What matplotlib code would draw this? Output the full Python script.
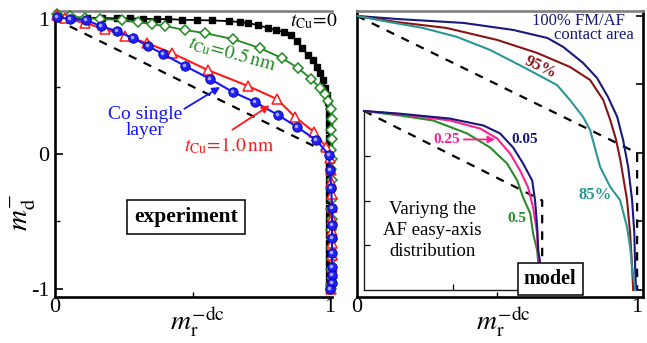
import matplotlib
matplotlib.use('Agg')
import matplotlib.pyplot as plt
from matplotlib.transforms import offset_copy

plt.rcParams['font.family'] = ['Liberation Serif', 'DejaVu Serif']
plt.rcParams['mathtext.fontset'] = 'stix'

# ---------------- experiment (left panel) ----------------
tcu0_x = [0.007, 0.062, 0.116, 0.171, 0.225, 0.273, 0.320, 0.371, 0.411, 0.462, 0.516,
          0.571, 0.633, 0.673, 0.702, 0.738, 0.775, 0.804, 0.833, 0.858, 0.880, 0.898,
          0.920, 0.938, 0.953, 0.964, 0.975, 0.982, 0.989, 0.993,
          0.995, 0.995, 0.996, 0.996, 0.996, 0.996, 0.996, 0.997, 0.997, 0.997, 0.997,
          0.997, 0.997, 0.997, 0.997, 0.997, 0.997, 0.997, 0.997, 0.997, 0.997, 0.997,
          0.997, 0.997, 0.997, 0.997, 0.997]
tcu0_y = [1.010, 1.010, 1.010, 1.008, 1.005, 1.005, 1.003, 1.000, 1.000, 0.995, 0.993,
          0.990, 0.985, 0.978, 0.970, 0.956, 0.933, 0.919, 0.905, 0.881, 0.837, 0.785,
          0.733, 0.696, 0.644, 0.600, 0.548, 0.489, 0.437, 0.385,
          0.33, 0.28, 0.23, 0.18, 0.12, 0.07, 0.02, -0.03, -0.08, -0.14, -0.19,
          -0.24, -0.29, -0.34, -0.40, -0.45, -0.50, -0.55, -0.60, -0.66, -0.71, -0.76,
          -0.81, -0.86, -0.91, -0.96, -1.00]

tcu05_x = [0.007, 0.055, 0.109, 0.164, 0.244, 0.302, 0.353, 0.400, 0.473, 0.545, 0.647,
           0.745, 0.825, 0.884, 0.931, 0.964, 0.982, 0.993,
           1.003, 1.006, 1.003, 1.006, 1.003, 1.006, 1.003, 1.006, 1.003, 1.006, 1.003,
           1.006, 1.003, 1.006, 1.003, 1.006, 1.003, 1.006, 1.003, 1.005]
tcu05_y = [1.037, 1.022, 1.007, 1.000, 0.993, 0.978, 0.963, 0.948, 0.919, 0.896, 0.852,
           0.785, 0.711, 0.637, 0.556, 0.489, 0.444, 0.393,
           0.33, 0.26, 0.18, 0.11, 0.03, -0.04, -0.11, -0.19, -0.26, -0.33, -0.41,
           -0.48, -0.56, -0.63, -0.70, -0.78, -0.85, -0.92, -0.97, -1.00]

tcu10_x = [0.007, 0.036, 0.109, 0.182, 0.255, 0.335, 0.425, 0.556, 0.702, 0.807, 0.873,
           0.942, 0.985, 1.000, 1.004, 1.005, 1.006, 1.006, 1.006, 1.006, 1.006, 1.006,
           1.006, 1.006, 1.005]
tcu10_y = [1.030, 1.007, 0.970, 0.926, 0.874, 0.822, 0.748, 0.622, 0.504, 0.407, 0.274,
           0.163, 0.052, -0.030, -0.12, -0.21, -0.30, -0.39, -0.48, -0.57, -0.66, -0.75,
           -0.84, -0.93, -1.00]

co_x = [0.007, 0.055, 0.113, 0.167, 0.225, 0.284, 0.338, 0.393, 0.473, 0.564, 0.647,
        0.727, 0.811, 0.880, 0.949, 0.996, 1.000, 1.004, 1.007, 1.007, 1.007, 1.007,
        1.007, 1.007, 1.007, 1.000]
co_y = [1.015, 1.000, 0.993, 0.948, 0.911, 0.859, 0.800, 0.741, 0.652, 0.556, 0.459,
        0.385, 0.289, 0.200, 0.104, -0.007, -0.119, -0.252, -0.400, -0.526, -0.622,
        -0.733, -0.837, -0.896, -0.956, -1.000]

guide_exp_x = [0.0, 1.0]
guide_exp_y = [1.0, 0.0]

# ---------------- model (right panel) ----------------
fm100_x = [0.0, 0.14, 0.38, 0.557, 0.68, 0.736, 0.807, 0.857, 0.896, 0.929, 0.95,
           0.968, 0.982, 0.99, 0.993, 0.996]
fm100_y = [1.0, 0.978, 0.949, 0.898, 0.839, 0.774, 0.657, 0.547, 0.409, 0.263, 0.095,
           -0.102, -0.343, -0.584, -0.832, -1.0]
fm95_x = [0.0, 0.14, 0.32, 0.5, 0.643, 0.76, 0.832, 0.879, 0.904, 0.925, 0.94,
          0.964, 0.975, 0.982, 0.986]
fm95_y = [1.0, 0.956, 0.912, 0.825, 0.73, 0.628, 0.533, 0.387, 0.241, 0.095, -0.05,
          -0.343, -0.584, -0.832, -1.0]
fm85_x = [0.0, 0.114, 0.236, 0.357, 0.475, 0.593, 0.714, 0.76, 0.807, 0.832, 0.868,
          0.904, 0.939, 0.964, 0.975, 0.982, 0.993]
fm85_y = [1.0, 0.956, 0.912, 0.847, 0.752, 0.628, 0.496, 0.387, 0.263, 0.168, -0.102,
          -0.248, -0.343, -0.54, -0.686, -0.832, -1.0]
guide_mod_x = [0.0, 1.0, 1.0]
guide_mod_y = [1.0, 0.0, -1.0]

# inset: AF easy-axis distribution
d005_x = [0.0, 0.2, 0.48, 0.67, 0.764, 0.837, 0.893, 0.944, 0.96, 0.972, 0.978, 0.989, 0.992]
d005_y = [1.0, 0.97, 0.916, 0.838, 0.749, 0.592, 0.413, 0.223, 0.0, -0.3, -0.56, -0.7, -1.0]
d025_x = [0.0, 0.2, 0.483, 0.652, 0.747, 0.82, 0.876, 0.921, 0.949, 0.972, 0.978, 0.985]
d025_y = [1.0, 0.966, 0.894, 0.804, 0.693, 0.525, 0.335, 0.145, -0.078, -0.369, -0.704, -1.0]
d05_x = [0.0, 0.2, 0.388, 0.579, 0.708, 0.803, 0.86, 0.893, 0.933, 0.949, 0.972, 0.978, 0.983]
d05_y = [1.0, 0.95, 0.894, 0.749, 0.592, 0.413, 0.223, 0.034, -0.145, -0.369, -0.559, -0.704, -1.0]

# ---------------- figure ----------------
W, H = 647, 343
fig = plt.figure(figsize=(W / 100, H / 100), dpi=100)

def fx(px):
    return px / W

def fy(py):
    return 1 - py / H

axL = fig.add_axes([fx(55), fy(297), (332 - 55) / W, (297 - 11) / H])
axR = fig.add_axes([fx(357), fy(297), (643 - 357) / W, (297 - 11) / H])

dash = (0, (3.8, 3.6))
black = 'black'
green = '#1f8a1f'
red = '#ff1a1a'
blue = '#1515ff'

# ---- left panel ----
axL.set_xlim(0, 1.007)
axL.set_ylim(-1.06, 1.06)
axL.plot(guide_exp_x, guide_exp_y, color='black', lw=1.6, linestyle=dash, zorder=1)
axL.plot(tcu0_x, tcu0_y, color=black, lw=1.3, marker='s', ms=4.6, mfc=black, mec=black,
         zorder=2, clip_on=False)
axL.plot(tcu05_x, tcu05_y, color=green, lw=1.3, marker='D', ms=5.2, mfc='white', mec=green,
         mew=1.1, zorder=3, clip_on=False)
axL.plot(tcu10_x, tcu10_y, color=red, lw=1.5, marker='^', ms=7, mfc='white', mec=red,
         mew=1.1, zorder=4, clip_on=False)
axL.plot(co_x, co_y, color=blue, lw=1.5, marker='o', ms=6.8, mfc='#2020f0', mec='#0000b0',
         mew=0.6, zorder=5, clip_on=False)
hl = offset_copy(axL.transData, fig=fig, x=-0.9, y=0.9, units='points')
axL.plot(co_x, co_y, linestyle='none', marker='o', ms=2.6, mfc='#a8a8ff', mec='none',
         transform=hl, zorder=6, clip_on=False)

axL.spines['right'].set_visible(False)
axL.spines['top'].set_color('#808080')
for s in ['left', 'bottom', 'top']:
    axL.spines[s].set_linewidth(1.9)

axL.set_yticks([-1, 0, 1])
axL.set_yticklabels(['-1', '0', '1'])
axL.set_yticks([-0.5, 0.5], minor=True)
axL.set_xticks([0, 1])
axL.set_xticklabels(['0', '1'])
axL.set_xticks([0.5], minor=True)
axL.tick_params(axis='both', which='major', direction='in', length=6, width=1.2,
                labelsize=16, top=False, right=False)
axL.tick_params(axis='y', which='major', pad=4)
axL.tick_params(axis='x', which='major', pad=1, length=0)
axL.tick_params(axis='both', which='minor', direction='in', length=3.5, width=1.0,
                top=False, right=False)

axL.text(0.855, 0.985, r'$t_{\rm Cu}\!=\!0$', fontsize=14, ha='left', va='center',
         color='black', clip_on=False, zorder=10)
axL.text(0.645, 0.745, r'$t_{\rm Cu}\!=\!0.5\,{\rm nm}$', fontsize=14, ha='center',
         va='center', color=green, rotation=-15, zorder=10)
axL.text(0.327, 0.235, 'Co single\nlayer', fontsize=14, ha='center', va='center',
         color=blue, linespacing=0.95, zorder=10)
axL.annotate('', xy=(0.60, 0.496), xytext=(0.47, 0.335),
             arrowprops=dict(arrowstyle='-|>', color=blue, lw=1.3, mutation_scale=11,
                             shrinkA=0, shrinkB=0), zorder=10)
axL.text(0.633, 0.06, r'$t_{\rm Cu}\!=\!1.0\,{\rm nm}$', fontsize=14, ha='center',
         va='center', color=red, zorder=10)
axL.annotate('', xy=(0.78, 0.36), xytext=(0.645, 0.18),
             arrowprops=dict(arrowstyle='-|>', color=red, lw=1.3, mutation_scale=11,
                             shrinkA=0, shrinkB=0), zorder=10)
axL.text(0.476, -0.467, 'experiment', fontsize=15.5, fontweight='bold', ha='center',
         va='center', zorder=10,
         bbox=dict(boxstyle='square,pad=0.33', fc='white', ec='black', lw=1.1))

# ---- right panel ----
axR.set_xlim(0, 1.021)
axR.set_ylim(-1.051, 1.036)
navy = '#18187e'
dred = '#8a1414'
teal = '#2a9696'
axR.plot(guide_mod_x, guide_mod_y, color='black', lw=1.6, linestyle=dash, zorder=1)
axR.plot(fm100_x, fm100_y, color=navy, lw=1.5, zorder=3)
axR.plot(fm95_x, fm95_y, color=dred, lw=1.5, zorder=3)
axR.plot(fm85_x, fm85_y, color=teal, lw=1.5, zorder=3)

axR.spines['top'].set_color('#808080')
for s in ['left', 'bottom', 'top', 'right']:
    axR.spines[s].set_linewidth(1.9)
axR.set_xticks([0, 1])
axR.set_xticklabels(['0', '1'])
axR.set_xticks([0.5], minor=True)
axR.set_yticks([-1, -0.5, 0, 0.5, 1])
axR.tick_params(axis='y', which='major', direction='in', length=5, width=1.2,
                left=False, right=True, labelleft=False, labelright=False)
axR.tick_params(axis='x', which='major', direction='in', length=0, labelsize=16, pad=1)
axR.tick_params(axis='x', which='minor', direction='in', length=3.5, width=1.0)

axR.text(0.957, 0.962, '100% FM/AF', fontsize=12, color=navy, ha='right', va='center')
axR.text(0.988, 0.858, 'contact area', fontsize=12, color=navy, ha='right', va='center')
axR.text(0.654, 0.625, '95%', fontsize=12, fontweight='bold', color=dred, ha='center',
         va='center', rotation=-25)
axR.text(0.85, -0.305, '85%', fontsize=12, fontweight='bold', color=teal, ha='center',
         va='center')

# ---- inset ----
axI = fig.add_axes([fx(364), fy(290), 196 / W, 179 / H], facecolor='none')
axI.set_xlim(0, 1.1)
axI.set_ylim(-1, 1)
pink = '#ff2090'
igreen = '#2a8a2a'
axI.plot(guide_mod_x, guide_mod_y, color='black', lw=1.6, linestyle=dash, zorder=1,
         clip_on=False)
axI.plot(d05_x, d05_y, color=igreen, lw=1.5, zorder=3, clip_on=False)
axI.plot(d025_x, d025_y, color=pink, lw=1.5, zorder=3, clip_on=False)
axI.plot(d005_x, d005_y, color=navy, lw=1.5, zorder=3, clip_on=False)
for s in ['top', 'right']:
    axI.spines[s].set_visible(False)
for s in ['left', 'bottom']:
    axI.spines[s].set_linewidth(1.0)
    axI.spines[s].set_color('#222222')
axI.set_yticks([-0.5, 0, 0.5])
axI.set_xticks([0.5])
axI.tick_params(direction='in', length=4, width=0.9, labelleft=False, labelbottom=False)

axI.text(0.466, 0.682, '0.25', fontsize=11, fontweight='bold', color=pink, ha='center',
         va='center')
axI.annotate('', xy=(0.735, 0.682), xytext=(0.56, 0.682),
             arrowprops=dict(arrowstyle='-|>', color=pink, lw=1.3, mutation_scale=10,
                             shrinkA=0, shrinkB=0))
axI.text(0.904, 0.682, '0.05', fontsize=11, fontweight='bold', color=navy, ha='center',
         va='center')
axI.text(0.86, -0.2, '0.5', fontsize=11, fontweight='bold', color=igreen, ha='center',
         va='center')
axI.text(0.382, -0.335, 'Variyng the\nAF easy-axis\ndistribution', fontsize=13.5,
         ha='center', va='center', linespacing=1.3)
axI.text(1.045, -0.872, 'model', fontsize=14.5, fontweight='bold', ha='center',
         va='center', zorder=10, clip_on=False,
         bbox=dict(boxstyle='square,pad=0.3', fc='white', ec='black', lw=1.1))

# ---- axis labels ----
fig.text(fx(24), fy(212), r'$m_{\rm d}^{-}$', fontsize=21, rotation=90, ha='center',
         va='center')
fig.text(fx(197), fy(322), r'$m_{\rm r}^{-{\rm dc}}$', fontsize=20, ha='center', va='center')
fig.text(fx(503), fy(322), r'$m_{\rm r}^{-{\rm dc}}$', fontsize=20, ha='center', va='center')

fig.savefig('out.png', dpi=100)
